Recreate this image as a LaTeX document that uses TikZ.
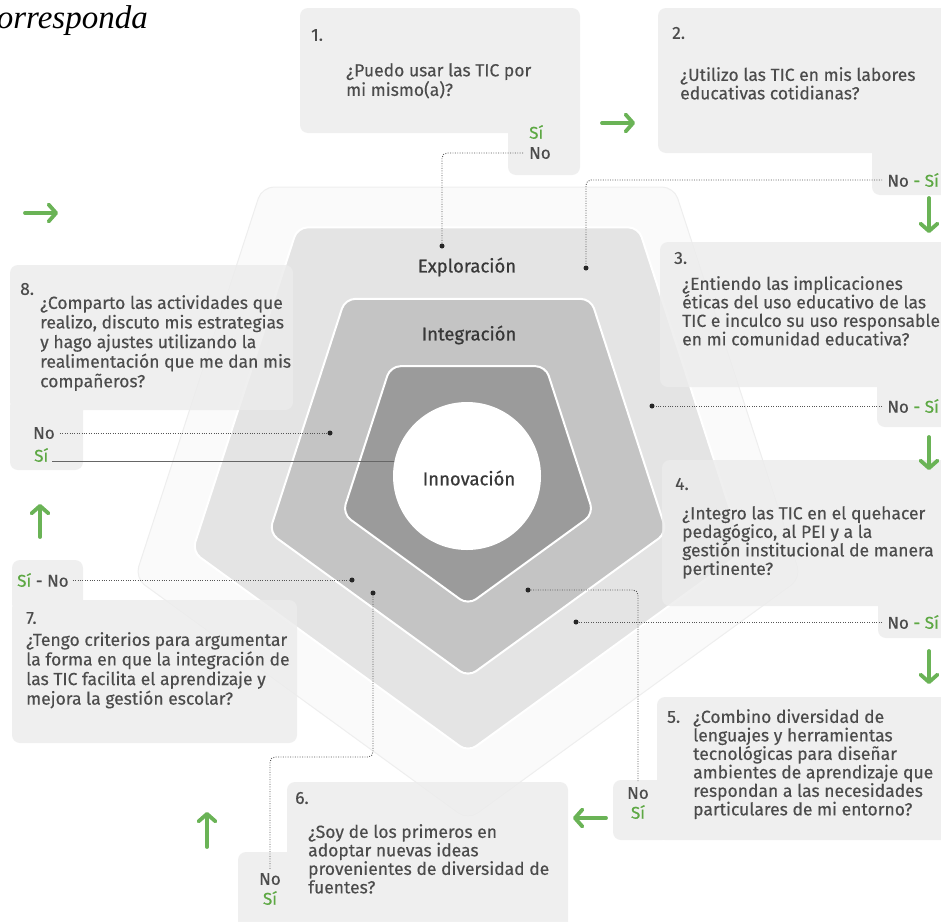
\documentclass[tikz,border=0pt]{standalone}
\usepackage{fontspec}
\setmainfont{Fira Sans}
\newfontfamily\qfont[FakeBold=0.3]{Fira Sans}
\newfontfamily\semib[FakeBold=0.7]{Fira Sans}
\newfontfamily\serifit{Liberation Serif}
\usetikzlibrary{arrows.meta}
\definecolor{boxgray}{HTML}{ECECEC}
\definecolor{txt}{HTML}{4C4C4C}
\definecolor{sigreen}{HTML}{5DA843}
\definecolor{arrgreen}{HTML}{6AB356}
\definecolor{layA}{HTML}{FAFAFA}
\definecolor{layAb}{HTML}{EEEEEE}
\definecolor{layB}{HTML}{E4E4E4}
\definecolor{layC}{HTML}{C4C4C4}
\definecolor{layD}{HTML}{9B9B9B}
\definecolor{dotcol}{HTML}{555555}
\newcommand{\si}{{\semib\color{sigreen}Sí}}
\tikzset{
  qbox/.style={fill=boxgray, fill opacity=0.8, rounded corners=8pt},
  layer/.style={draw=white, line width=2pt, rounded corners=10pt},
  qtext/.style={anchor=north west, inner sep=0pt, align=left, text=txt, font=\qfont\fontsize{17.5}{18.5}\selectfont},
  qtextL/.style={anchor=north west, inner sep=0pt, align=left, text=txt, font=\qfont\fontsize{17.5}{19.6}\selectfont},
  qnum/.style={anchor=west, inner sep=0pt, text=txt, font=\qfont\fontsize{17.5}{19}\selectfont},
  ans/.style={anchor=west, inner sep=0pt, text=txt, font=\qfont\fontsize{17}{18.5}\selectfont},
  ansc/.style={inner sep=0pt, text=txt, font=\qfont\fontsize{17}{18.5}\selectfont},
  layerlab/.style={inner sep=0pt, text=black!78, font=\semib\fontsize{18.5}{20}\selectfont},
  dotn/.style={circle, fill=black!85, inner sep=0pt, minimum size=5pt},
  dl/.style={draw=dotcol, line width=0.9pt, dash pattern=on 0.9pt off 1.5pt, rounded corners=5pt},
  solidl/.style={draw=black!60, line width=1pt},
  garrow/.style={draw=arrgreen, line width=3.8pt, line cap=round, -{Straight Barb[length=7.5pt,width=17pt,round]}}
}
\begin{document}
\begin{tikzpicture}[x=1pt,y=-1pt]
\useasboundingbox (0,0) rectangle (941,921);
\fill[white] (0,0) rectangle (941,921);

% heading fragment (cut by the left edge, as in the source)
\node[anchor=base east, inner sep=0pt, font=\serifit\itshape\fontsize{33}{36}\selectfont] (head) at (148,28) {corresponda};

% pentagon layers
\filldraw[fill=layA, draw=layAb, line width=1pt, rounded corners=12pt] (262,187) -- (674,187) -- (801,578) -- (468,820) -- (135,578) -- cycle;
\filldraw[layer, fill=layB] (297.5,227.4) -- (638.5,227.4) -- (743.8,551.6) -- (468,752) -- (192.2,551.6) -- cycle;
\filldraw[layer, fill=layC] (345.1,298.9) -- (590.9,298.9) -- (666.8,532.6) -- (468,677) -- (269.2,532.6) -- cycle;
\filldraw[layer, fill=layD] (390.4,366.2) -- (545.6,366.2) -- (593.5,513.8) -- (468,605) -- (342.5,513.8) -- cycle;

% question boxes
\fill[qbox] (300,8) rectangle (580,133) (508,118) rectangle (580,175);
\fill[qbox] (658,8) rectangle (960,153) (872,140) rectangle (960,195);
\fill[qbox] (660,242) rectangle (960,387) (877,375) rectangle (960,427);
\fill[qbox] (662,460) rectangle (960,606) (878,595) rectangle (960,638);
\fill[qbox] (657,697) rectangle (960,840) (613,780) rectangle (670,840);
\fill[qbox] (287,782) rectangle (568,940) (238,852) rectangle (300,940);
\fill[qbox] (12,600) rectangle (297,743) (12,560) rectangle (83,612);
\fill[qbox] (10,265) rectangle (293,410) (10,398) rectangle (83,470);

% Si line of box 8 (drawn under the circle)
\node[ans] (no8) at (33,433) {No};
\node[ans] (si8) at (34,455) {\si};
\coordinate (sEnd) at (430,460);
\draw[solidl] ([xshift=4pt]si8.base east) -- (sEnd |- si8.base);

% centre circle and labels
\node[circle, fill=white, minimum size=148pt, inner sep=0pt] (circ) at (467,476) {};
\node[layerlab] (exp) at (467,267) {Exploración};
\node[layerlab] (int) at (469,335) {Integración};
\node[layerlab] (inn) at (469,478) {Innovación};

% box 1
\node[qnum] (n1) at (311,35) {1.};
\node[qtext] (q1) at (346,63) {¿Puedo usar las TIC por\\mi mismo(a)?};
\node[ans] (si1) at (529,132) {\si};
\node[ans] (no1) at (529,153) {No};
% box 2
\node[qnum] (n2) at (672,33) {2.};
\node[qtext] (q2) at (680,67) {¿Utilizo las TIC en mis labores\\educativas cotidianas?};
\node[ansc, anchor=east] (ns2) at (939,180) {No {\color{sigreen}-} \si};
% box 3
\node[qnum] (n3) at (674,258) {3.};
\node[qtext] (q3) at (682,276) {¿Entiendo las implicaciones\\éticas del uso educativo de las\\TIC e inculco su uso responsable\\en mi comunidad educativa?};
\node[ansc, anchor=east] (ns3) at (939,406) {No {\color{sigreen}-} \si};
% box 4
\node[qnum] (n4) at (675,484) {4.};
\node[qtext] (q4) at (682,506) {¿Integro las TIC en el quehacer\\pedagógico, al PEI y a la\\gestión institucional de manera\\pertinente?};
\node[ansc, anchor=east] (ns4) at (939,622) {No {\color{sigreen}-} \si};
% box 5
\node[qnum] (n5) at (667,717) {5.};
\node[qtext] (q5) at (693,709) {¿Combino diversidad de\\lenguajes y herramientas\\tecnológicas para diseñar\\ambientes de aprendizaje que\\respondan a las necesidades\\particulares de mi entorno?};
\node[ansc] (no5) at (638,793) {No};
\node[ansc] (si5) at (638,812) {\si};
% box 6
\node[qnum] (n6) at (295,798) {6.};
\node[qtext] (q6) at (308,824) {¿Soy de los primeros en\\adoptar nuevas ideas\\provenientes de diversidad de\\fuentes?};
\node[ansc] (no6) at (270,879) {No};
\node[ansc] (si6) at (270,898) {\si};
% box 7
\node[ans] (sn7) at (17,580) {\si{} - No};
\node[qnum] (n7) at (26,618) {7.};
\node[qtextL] (q7) at (26,632) {¿Tengo criterios para argumentar\\la forma en que la integración de\\las TIC facilita el aprendizaje y\\mejora la gestión escolar?};
% box 8
\node[qnum] (n8) at (20,289) {8.};
\node[qtextL] (q8) at (40,295) {¿Comparto las actividades que\\realizo, discuto mis estrategias\\y hago ajustes utilizando la\\realimentación que me dan mis\\compañeros?};

% dots
\node[dotn] (d1) at (442,246) {};
\node[dotn] (d2) at (586,268) {};
\node[dotn] (d3) at (652,406) {};
\node[dotn] (d4) at (576,622) {};
\node[dotn] (d5) at (528,590) {};
\node[dotn] (d6) at (373,593) {};
\node[dotn] (d7) at (352,580) {};
\node[dotn] (d8) at (330,433) {};
\coordinate (c6) at (373,757);

% dotted connectors
\draw[dl] ([xshift=-6pt]no1.west) -| (d1);
\draw[dl] ([xshift=-5pt]ns2.west) -| (d2);
\draw[dl] ([xshift=-5pt]ns3.west) -- (d3);
\draw[dl] ([xshift=-5pt]ns4.west) -- (d4);
\draw[dl] (d5) -| ([yshift=5pt]no5.north);
\draw[dl] ([yshift=4pt]no6.north) |- (c6) -- (d6);
\draw[dl] ([xshift=4pt]sn7.east) -- (d7);
\draw[dl] ([xshift=5pt]no8.east) -- (d8);

% green flow arrows
\coordinate (a8s) at (25,213);  \coordinate (a8e) at (58,213);
\coordinate (a1s) at (602,123); \coordinate (a1e) at (635,123);
\coordinate (a2s) at (929,198); \coordinate (a2e) at (929,233);
\coordinate (a3s) at (929,437); \coordinate (a3e) at (929,470);
\coordinate (a4s) at (929,651); \coordinate (a4e) at (929,684);
\coordinate (a5s) at (606,818); \coordinate (a5e) at (573,818);
\coordinate (a6s) at (207,847); \coordinate (a6e) at (207,812);
\coordinate (a7s) at (40,537);  \coordinate (a7e) at (40,504);
\draw[garrow] (a8s) -- (a8e);
\draw[garrow] (a1s) -- (a1e);
\draw[garrow] (a2s) -- (a2e);
\draw[garrow] (a3s) -- (a3e);
\draw[garrow] (a4s) -- (a4e);
\draw[garrow] (a5s) -- (a5e);
\draw[garrow] (a6s) -- (a6e);
\draw[garrow] (a7s) -- (a7e);
\end{tikzpicture}
\end{document}
